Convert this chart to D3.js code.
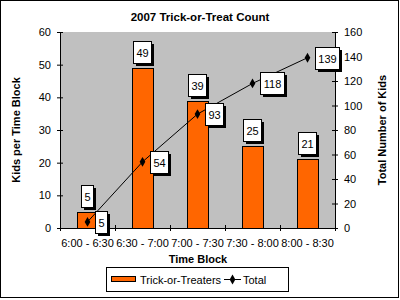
<!DOCTYPE html>
<html>
<head>
<meta charset="utf-8">
<script src="https://cdn.jsdelivr.net/npm/d3@7"></script>
<style>
  body { margin: 0; background: #fff; }
  svg text { font-family: "Liberation Sans", Arial, sans-serif; fill: #000; }
</style>
</head>
<body>
<div id="container"></div>
<script>
const categories = ["6:00 - 6:30", "6:30 - 7:00", "7:00 - 7:30", "7:30 - 8:00", "8:00 - 8:30"];
const perBlock = [5, 49, 39, 25, 21];
const totals = [5, 54, 93, 118, 139];
const leftTicks = [0, 10, 20, 30, 40, 50, 60];
const rightTicks = [0, 20, 40, 60, 80, 100, 120, 140, 160];

const width = 400;
const height = 300;
const plot = { left: 60, right: 335, top: 32, bottom: 228 };

const svg = d3
  .select("#container")
  .append("svg")
  .attr("width", width)
  .attr("height", height);

// outer chart border
svg
  .append("rect")
  .attr("x", 0.5)
  .attr("y", 0.5)
  .attr("width", 398)
  .attr("height", 297)
  .attr("fill", "#fff")
  .attr("stroke", "#000");

// plot background
svg
  .append("rect")
  .attr("x", plot.left)
  .attr("y", plot.top)
  .attr("width", plot.right - plot.left)
  .attr("height", plot.bottom - plot.top)
  .attr("fill", "#c0c0c0");

const x = d3
  .scaleBand()
  .domain(categories)
  .range([plot.left, plot.right])
  .paddingInner(0.62)
  .paddingOuter(0.31);

const step = x.step();
const xCenter = (c) => x(c) + x.bandwidth() / 2;

const yLeft = d3.scaleLinear().domain([0, 60]).range([plot.bottom, plot.top]);
const yRight = d3.scaleLinear().domain([0, 160]).range([plot.bottom, plot.top]);

// axes
const leftAxis = d3.axisLeft(yLeft).tickValues(leftTicks).tickSizeInner(3).tickSizeOuter(0).tickPadding(6);
const rightAxis = d3.axisRight(yRight).tickValues(rightTicks).tickSizeInner(3).tickSizeOuter(0).tickPadding(6);

const gl = svg.append("g").attr("transform", `translate(${plot.left},0)`).call(leftAxis);
const gr = svg.append("g").attr("transform", `translate(${plot.right},0)`).call(rightAxis);

[gl, gr].forEach((g) => {
  g.select(".domain").attr("stroke", "#000");
  g.selectAll(".tick line").attr("stroke", "#000").attr("x1", -3).attr("x2", 3);
  g.selectAll("text").style("font-size", "11px").attr("font-family", null);
});

// x axis line and boundary ticks
const xg = svg.append("g");
xg.append("line")
  .attr("x1", plot.left)
  .attr("x2", plot.right)
  .attr("y1", plot.bottom + 0.5)
  .attr("y2", plot.bottom + 0.5)
  .attr("stroke", "#000");

xg.selectAll(".bt")
  .data(d3.range(categories.length + 1))
  .enter()
  .append("line")
  .attr("x1", (i) => Math.round(plot.left + i * step) + 0.5)
  .attr("x2", (i) => Math.round(plot.left + i * step) + 0.5)
  .attr("y1", plot.bottom - 3)
  .attr("y2", plot.bottom + 3)
  .attr("stroke", "#000");

xg.selectAll(".xl")
  .data(categories)
  .enter()
  .append("text")
  .attr("x", (d) => xCenter(d))
  .attr("y", 247)
  .attr("text-anchor", "middle")
  .style("font-size", "11px")
  .text((d) => d);

// bars
svg
  .append("g")
  .selectAll("rect")
  .data(perBlock)
  .enter()
  .append("rect")
  .attr("x", (d, i) => Math.round(x(categories[i])) + 0.5)
  .attr("y", (d) => Math.round(yLeft(d)) + 0.5)
  .attr("width", Math.round(x.bandwidth()))
  .attr("height", (d) => Math.round(plot.bottom) - Math.round(yLeft(d)))
  .attr("fill", "#ff6600")
  .attr("stroke", "#000");

// total line
const line = d3
  .line()
  .x((d, i) => xCenter(categories[i]))
  .y((d) => yRight(d));

svg
  .append("path")
  .datum(totals)
  .attr("d", line)
  .attr("fill", "none")
  .attr("stroke", "#000")
  .attr("stroke-width", 1);

const diamond = d3.symbol().type(d3.symbolDiamond).size(28);

svg
  .append("g")
  .selectAll("path")
  .data(totals)
  .enter()
  .append("path")
  .attr("d", diamond)
  .attr("transform", (d, i) => `translate(${xCenter(categories[i])},${yRight(d)})`)
  .attr("fill", "#000");

// data label: white box with black shadow
function dataLabel(g, text, cx, top, anchorLeft) {
  const t = g
    .append("text")
    .style("font-size", "11px")
    .attr("text-anchor", "middle")
    .text(text);
  const w = Math.round(t.node().getComputedTextLength() + 6);
  const h = 22;
  const bx = Math.round(anchorLeft ? cx : cx - w / 2);
  const by = Math.round(top);
  g.insert("rect", "text")
    .attr("x", bx + 3)
    .attr("y", by + 3)
    .attr("width", w)
    .attr("height", h)
    .attr("fill", "#000");
  g.insert("rect", "text")
    .attr("x", bx + 0.5)
    .attr("y", by + 0.5)
    .attr("width", w)
    .attr("height", h)
    .attr("fill", "#fff")
    .attr("stroke", "#000");
  t.attr("x", bx + w / 2 + 0.5).attr("y", by + h / 2 + 4.5);
}

perBlock.forEach((d, i) => {
  const g = svg.append("g");
  dataLabel(g, d, xCenter(categories[i]) - 1, yLeft(d) - 27, false);
});

totals.forEach((d, i) => {
  const g = svg.append("g");
  dataLabel(g, d, xCenter(categories[i]) + 7, yRight(d) - 11, true);
});

// titles
svg
  .append("text")
  .attr("x", 200)
  .attr("y", 21)
  .attr("text-anchor", "middle")
  .style("font-size", "11.5px")
  .style("font-weight", "bold")
  .text("2007 Trick-or-Treat Count");

svg
  .append("text")
  .attr("x", 198)
  .attr("y", 263)
  .attr("text-anchor", "middle")
  .style("font-size", "11px")
  .style("font-weight", "bold")
  .text("Time Block");

svg
  .append("text")
  .attr("transform", `translate(20,${(plot.top + plot.bottom) / 2}) rotate(-90)`)
  .attr("text-anchor", "middle")
  .style("font-size", "11px")
  .style("font-weight", "bold")
  .text("Kids per Time Block");

svg
  .append("text")
  .attr("transform", `translate(386,${(plot.top + plot.bottom) / 2}) rotate(-90)`)
  .attr("text-anchor", "middle")
  .style("font-size", "11px")
  .style("font-weight", "bold")
  .text("Total Number of Kids");

// legend
const legend = svg.append("g");
legend
  .append("rect")
  .attr("x", 106.5)
  .attr("y", 267.5)
  .attr("width", 182)
  .attr("height", 24)
  .attr("fill", "#fff")
  .attr("stroke", "#000");

legend
  .append("rect")
  .attr("x", 111.5)
  .attr("y", 276.5)
  .attr("width", 24)
  .attr("height", 5)
  .attr("fill", "#ff6600")
  .attr("stroke", "#000");

legend
  .append("text")
  .attr("x", 140)
  .attr("y", 283.5)
  .style("font-size", "11px")
  .text("Trick-or-Treaters");

legend
  .append("line")
  .attr("x1", 224)
  .attr("x2", 241)
  .attr("y1", 279.5)
  .attr("y2", 279.5)
  .attr("stroke", "#000");

legend
  .append("path")
  .attr("d", diamond)
  .attr("transform", "translate(232.5,279.5)")
  .attr("fill", "#000");

legend
  .append("text")
  .attr("x", 243)
  .attr("y", 283.5)
  .style("font-size", "11px")
  .text("Total");
</script>
</body>
</html>
